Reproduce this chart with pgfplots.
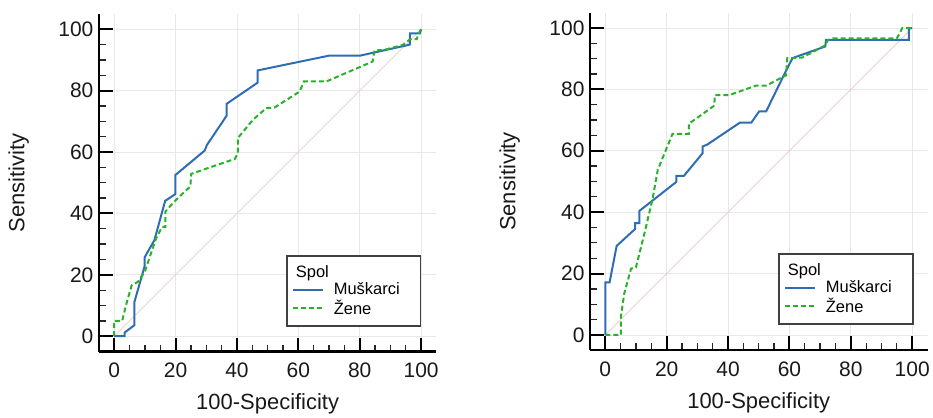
\documentclass[border=0pt]{standalone}
\usepackage{pgfplots}
\pgfplotsset{compat=1.18}
\usepackage{fontspec}
\setmainfont{Liberation Sans}

\definecolor{cblue}{RGB}{46,109,180}
\definecolor{cgreen}{RGB}{40,178,40}
\definecolor{cdiag}{RGB}{232,206,206}
\definecolor{cgrid}{RGB}{232,232,232}

\pgfplotsset{roc/.style={
  set layers,
  scale only axis, width=338pt, height=338pt,
  anchor=south west,
  xmin=-5, xmax=105, ymin=-5, ymax=105,
  axis x line*=bottom, axis y line*=left,
  axis line style={line width=2.2pt, black, -},
  xtick={0,20,...,100}, ytick={0,20,...,100},
  minor xtick={5,10,15,25,30,35,45,50,55,65,70,75,85,90,95},
  minor ytick={5,10,15,25,30,35,45,50,55,65,70,75,85,90,95},
  xtick align=inside, ytick align=inside,
  major tick length=14pt, minor tick length=7pt,
  major tick style={draw=black, line width=2pt},
  minor tick style={draw=black!85, line width=1.3pt},
  xmajorgrids=true, ymajorgrids=true,
  major grid style={cgrid, line width=0.8pt},
  /pgf/number format/assume math mode=true,
  tick label style={font=\fontsize{21}{24}\selectfont, black!90},
  xticklabel style={yshift=-8pt},
  yticklabel style={xshift=-2pt},
  label style={font=\fontsize{22}{25}\selectfont, black!90},
  xlabel={100-Specificity}, ylabel={Sensitivity},
  xlabel style={at={(axis description cs:0.5,-0.1716)}, anchor=base},
  ylabel style={at={(axis description cs:-0.221,0.5)}, anchor=base, rotate=0},
  legend cell align=left,
  legend image code/.code={\draw[#1] (0pt,0pt) -- (30pt,0pt);},
  legend style={anchor=south east, draw=black!75, line width=1.5pt, fill=white,
    font=\fontsize{16.5}{19}\selectfont, inner xsep=5pt, inner ysep=7.5pt, row sep=0pt},
}}

\begin{document}
\begin{tikzpicture}
\path (0,0) rectangle (933pt,415pt);
% ---------- left panel ----------
\begin{axis}[roc, at={(99pt,63pt)},
  legend style={at={(axis description cs:0.9556,0.074)}}]
\addlegendimage{empty legend}
\addlegendentry{\makebox[0pt][l]{\hspace*{-30pt}Spol}}
\addplot[cdiag, line width=0.8pt, forget plot] coordinates {(0,0) (100,100)};
\addplot[cblue, line width=2pt] coordinates {
(0,0) (3.4,0) (3.4,1.2) (6.6,3.6) (6.6,11.2) (9.9,22.8) (9.9,25.7) (13.1,31.3)
(16.6,44.1) (19.9,46.3) (19.9,52.5) (29.5,60.5) (30.2,62.3) (36.6,71.8) (36.6,75.7)
(46.7,82.6) (46.7,86.6) (69.9,91.4) (80.0,91.4) (96.3,95.0) (96.4,98.7) (99.6,98.7) (100,100)};
\addlegendentry{\hspace*{8pt}Muškarci\hspace*{14pt}}
\addplot[cgreen, line width=2pt, dash pattern=on 5pt off 3pt] coordinates {
(0,0) (0,5.0) (2.6,5.0) (3.9,10.3) (5.7,16.6) (7.7,17.7) (10,21.1) (12,27.1) (13.7,32)
(15.6,35.6) (16.7,35.6) (16.7,40.7) (20.2,44.5) (24.8,48.8) (25.1,52.9) (30,54.6)
(37.6,57.2) (39.2,57.6) (40.3,59.7) (40.3,64.6) (45.2,70.5) (49.5,74.3) (52.2,74.5)
(60.4,79.7) (61.8,83) (69.1,83) (84.2,89.5) (84.8,93.1) (88,93.3) (94,94.9)
(96.5,96.8) (98.6,96.8) (99,98.2) (100,100)};
\addlegendentry{\hspace*{8pt}Žene}
\end{axis}
% ---------- right panel ----------
\begin{axis}[roc, at={(590.7pt,64.3pt)},
  legend style={at={(axis description cs:0.9585,0.0763)}}]
\addlegendimage{empty legend}
\addlegendentry{\makebox[0pt][l]{\hspace*{-30pt}Spol}}
\addplot[cdiag, line width=0.8pt, forget plot] coordinates {(0,0) (100,100)};
\addplot[cblue, line width=2pt] coordinates {
(0,0) (0,17.1) (1.4,17.1) (3.7,29) (9.7,34.5) (9.7,36.4) (11.1,36.4) (11.1,40.4)
(23.2,49.9) (23.2,51.8) (25.6,51.8) (31.7,59.2) (31.7,61.4) (33.2,62) (43.9,69.2)
(47.6,69.2) (50.1,72.8) (52.4,72.8) (58.6,85.5) (61,90.2) (71.7,94) (71.9,96.1)
(98.9,96.1) (98.9,100) (100,100)};
\addlegendentry{\hspace*{8pt}Muškarci\hspace*{14pt}}
\addplot[cgreen, line width=2pt, dash pattern=on 5pt off 3pt] coordinates {
(0,0) (5.1,0) (5.1,6.1) (6.2,13.6) (8.4,21.6) (10,22) (12.5,32) (15.4,44.3) (17.1,53.8)
(21.9,65.5) (27.2,65.5) (27.2,68.8) (35.5,74.7) (35.7,78.1) (40.3,78.1) (49,81.2)
(52.4,81.2) (58.9,84.6) (59.3,90.2) (61.3,90.2) (64.2,90.4) (71.6,94.3) (72.5,96)
(74.1,96.6) (95,96.6) (96.8,100) (100,100)};
\addlegendentry{\hspace*{8pt}Žene}
\end{axis}
\end{tikzpicture}
\end{document}
